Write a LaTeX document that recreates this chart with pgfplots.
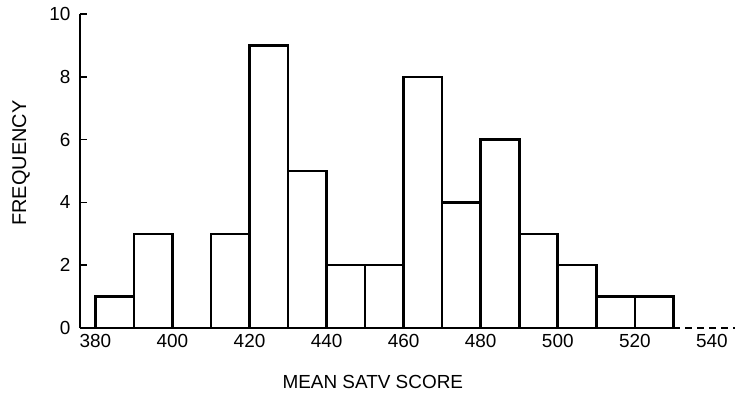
\documentclass[border=0pt]{standalone}
\usepackage{pgfplots}
\pgfplotsset{compat=1.18}
\usepackage{fontspec}
\setmainfont{Liberation Sans}
\begin{document}
\begin{tikzpicture}
\begin{axis}[
  scale only axis, width=655bp, height=314bp,
  xmin=376, xmax=546, ymin=0, ymax=10,
  axis x line*=bottom, axis y line*=left,
  axis line style={line width=1.6pt},
  x axis line style={draw=none},
  xtick={380,400,...,540}, ytick={0,2,...,10},
  xtick style={draw=none},
  tick align=inside, major tick length=7bp,
  ytick style={line width=1.6pt, black},
  tick label style={font=\fontsize{19}{22}\selectfont},
  yticklabel style={xshift=-6bp},
  xticklabel style={yshift=-3bp},
  /pgf/number format/assume math mode=true,
  /pgf/number format/1000 sep={},
  xlabel={MEAN SATV SCORE}, ylabel={FREQUENCY},
  xlabel style={font=\fontsize{19}{22}\selectfont, at={(axis description cs:0.447,-0.172)}, anchor=center},
  ylabel style={font=\fontsize{20}{22}\selectfont, at={(axis description cs:-0.09,0.525)}, anchor=center},
  clip=false,
]
\addplot[ybar interval, fill=none, draw=black, line width=2.6pt, line join=miter] coordinates {
(380,1)(390,3)(400,0)(410,3)(420,9)(430,5)(440,2)(450,2)(460,8)(470,4)(480,6)(490,3)(500,2)(510,1)(520,1)(530,1)};
\draw[line width=1.6pt] (axis cs:376,0) -- (axis cs:530,0);
\draw[line width=1.6pt, dash pattern=on 7bp off 5bp] (axis cs:530,0) -- (axis cs:546,0);
\coordinate (ll) at (rel axis cs:0,0);
\coordinate (ur) at (rel axis cs:1,1);
\end{axis}
\pgfresetboundingbox
\path ([shift={(-80bp,-74bp)}]ll) rectangle ([shift={(1bp,14bp)}]ur);
\end{tikzpicture}
\end{document}
